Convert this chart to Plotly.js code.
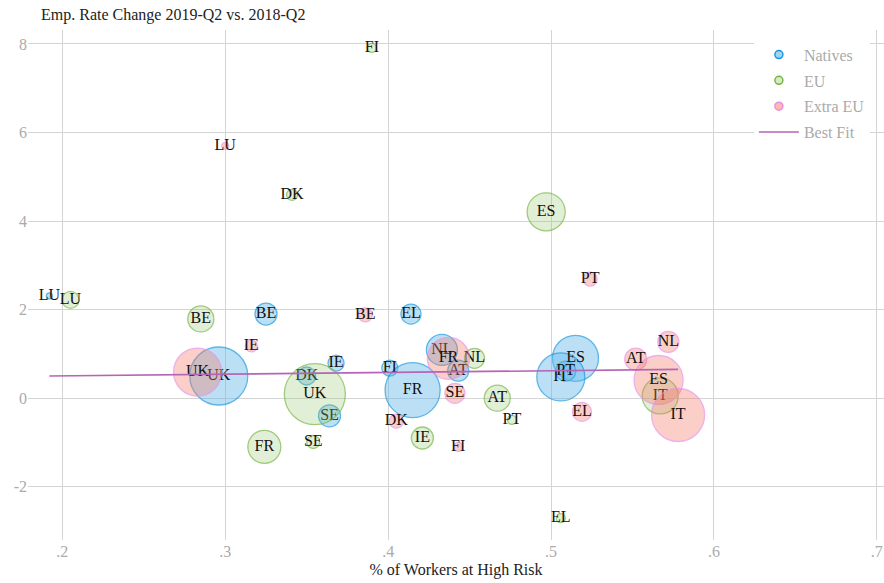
<!DOCTYPE html>
<html>
<head>
<meta charset="utf-8">
<script src="https://cdn.plot.ly/plotly-3.0.1.min.js"></script>
<style>html,body{margin:0;padding:0;background:#fff;}#chart{width:884px;height:583px;}</style>
</head>
<body>
<div id="chart"></div>
<script>
// Natives
const natLabels = ['LU','BE','EL','IE','FI','DK','SE','UK','FR','NL','AT','ES','PT','IT'];
const natRisk   = [0.192,0.325,0.414,0.368,0.401,0.350,0.364,0.296,0.415,0.433,0.443,0.515,0.509,0.506];
const natChange = [2.31,1.90,1.90,0.79,0.68,0.50,-0.40,0.50,0.18,1.09,0.62,0.90,0.61,0.48];
const natSize   = [6,22,20,16,16,18,22,58,55,31,21,46,20,48];
// EU
const euLabels = ['FI','DK','ES','LU','BE','NL','UK','AT','PT','SE','FR','IE','EL','IT'];
const euRisk   = [0.390,0.341,0.497,0.205,0.285,0.453,0.355,0.467,0.476,0.354,0.324,0.421,0.506,0.567];
const euChange = [7.91,4.59,4.21,2.22,1.79,0.90,0.09,0.00,-0.49,-0.99,-1.10,-0.90,-2.71,0.05];
const euSize   = [9,11,38,17,26,20,61,26,9,13,33,22,9,36];
// Extra EU
const exLabels = ['LU','PT','BE','IE','UK','NL','AT','ES','IT','EL','FR','SE','DK','FI'];
const exRisk   = [0.300,0.524,0.386,0.316,0.283,0.572,0.552,0.566,0.578,0.519,0.437,0.441,0.405,0.443];
const exChange = [5.70,2.69,1.88,1.18,0.59,1.27,0.88,0.41,-0.38,-0.31,0.90,0.11,-0.52,-1.10];
const exSize   = [7,14,14,12,48,21,22,49,53,19,42,20,14,9];
// Best fit
const fitX = [0.192, 0.578];
const fitY = [0.50, 0.65];
// Ticks
const xTickVals = [0.2,0.3,0.4,0.5,0.6,0.7];
const xTickText = ['.2','.3','.4','.5','.6','.7'];
const yTickVals = [-2,0,2,4,6,8];
const yTickText = ['-2','0','2','4','6','8'];

const FONT = '"Liberation Serif", "DejaVu Serif", serif';
const natStyle = {fill:'rgba(100,185,235,0.62)', line:'#1a96dc'};
const euStyle  = {fill:'rgba(150,200,110,0.4)', line:'#78b545'};
const exStyle  = {fill:'rgba(245,120,100,0.5)', line:'#e98de4'};

function bubble(name, x, y, s, t, st){
  return {
    type:'scatter', mode:'markers+text', name:name, x:x, y:y, text:t,
    textposition:'middle center', textfont:{family:FONT, size:16, color:'#111'},
    marker:{size:s, sizemode:'diameter', color:st.fill, line:{color:st.line, width:1.3}},
    showlegend:false, hoverinfo:'x+y+text', cliponaxis:false
  };
}
function legendItem(name, st){
  return {type:'scatter', mode:'markers', name:name, legendgroup:name, x:[null], y:[null],
    marker:{size:8, color:st.fill, line:{color:st.line, width:1.5}}, showlegend:true};
}

const data = [
  bubble('Natives', natRisk, natChange, natSize, natLabels, natStyle),
  bubble('EU', euRisk, euChange, euSize, euLabels, euStyle),
  bubble('Extra EU', exRisk, exChange, exSize, exLabels, exStyle),
  {type:'scatter', mode:'lines', name:'Best Fit', x:fitX, y:fitY,
   line:{color:'#b565b5', width:1.6}, showlegend:false},
  legendItem('Natives', natStyle),
  legendItem('EU', euStyle),
  legendItem('Extra EU', exStyle),
  {type:'scatter', mode:'lines', name:'Best Fit', legendgroup:'fit', x:[null], y:[null],
   line:{color:'#b565b5', width:1.6}, showlegend:true}
];

const layout = {
  width:884, height:583,
  margin:{l:28, r:0, t:30, b:43},
  paper_bgcolor:'#fff', plot_bgcolor:'#fff',
  font:{family:FONT, size:15, color:'#222'},
  title:{text:'Emp. Rate Change 2019-Q2 vs. 2018-Q2', x:41/884, xref:'container', xanchor:'left',
         y:1-14/583, yref:'container', yanchor:'middle', font:{family:FONT, size:16, color:'#222'}},
  xaxis:{range:[0.1789,0.7044], tickvals:xTickVals, ticktext:xTickText, showgrid:true,
         gridcolor:'#d4d4d4', gridwidth:1, zeroline:false, showline:false, ticks:'',
         tickfont:{family:FONT, size:16, color:'#aaa'},
         title:{text:'% of Workers at High Risk', font:{family:FONT, size:16, color:'#222'}, standoff:4}},
  yaxis:{range:[-3.204,8.316], tickvals:yTickVals, ticktext:yTickText, showgrid:true,
         gridcolor:'#d4d4d4', gridwidth:1, zeroline:false, showline:false, ticks:'',
         tickfont:{family:FONT, size:16, color:'#aaa'}},
  legend:{x:0.848, xanchor:'left', y:0.985, yanchor:'top', bgcolor:'#fff',
          font:{family:FONT, size:16, color:'#aaa'}, tracegroupgap:2, itemwidth:40},
  showlegend:true
};
Plotly.newPlot('chart', data, layout, {displayModeBar:false, staticPlot:true});
</script>
</body>
</html>
